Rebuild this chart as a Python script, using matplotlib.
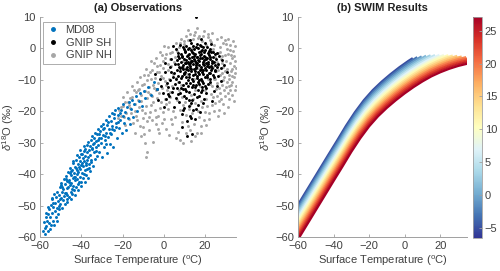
import numpy as np
import matplotlib
matplotlib.use("Agg")
import matplotlib.pyplot as plt
from matplotlib import cm, colors

plt.rcParams['font.family'] = ['Liberation Sans', 'DejaVu Sans']
plt.rcParams['mathtext.fontset'] = 'custom'
plt.rcParams['mathtext.rm'] = 'Liberation Sans'
plt.rcParams['mathtext.it'] = 'Liberation Sans:italic'
plt.rcParams['font.size'] = 8

# ---- (a) observations: points (T degC, d18O permil) ----
md08 = np.array([
    (-58.6, -58.2), (-58.1, -55.3), (-57.8, -57.0), (-57.4, -59.1),
    (-57.2, -53.8), (-56.9, -56.4), (-56.6, -54.9), (-56.3, -58.0), (-56.1, -52.6),
    (-55.8, -55.6), (-55.5, -51.2), (-55.3, -57.3), (-55.0, -53.7), (-54.8, -49.8), (-54.6, -56.1),
    (-54.3, -52.4), (-54.1, -47.9), (-53.8, -54.9), (-53.6, -50.6), (-53.3, -56.2), (-53.1, -46.4), (-52.9, -51.8),
    (-52.7, -49.1), (-52.4, -53.8), (-52.2, -47.3), (-51.9, -50.9), (-51.7, -45.6), (-51.5, -52.6), (-51.2, -48.4), (-51.0, -50.1),
    (-50.8, -46.7), (-50.6, -51.2), (-50.3, -44.2), (-50.1, -49.6), (-49.9, -47.5), (-49.6, -42.9), (-49.4, -50.8), (-49.2, -45.8), (-49.0, -48.3),
    (-48.7, -44.6), (-48.5, -41.5), (-48.3, -47.1), (-48.0, -49.5), (-47.8, -43.2), (-47.6, -45.9), (-47.3, -40.6), (-47.1, -48.0), (-46.9, -42.1), (-46.7, -46.6),
    (-46.5, -44.0), (-46.3, -39.2), (-46.1, -47.4), (-45.8, -41.8), (-45.6, -43.5), (-45.4, -37.9), (-45.2, -45.7), (-45.0, -40.3), (-44.8, -42.7), (-44.6, -46.2), (-44.4, -38.8),
    (-44.2, -41.2), (-44.0, -43.9), (-43.8, -36.4), (-43.6, -39.7), (-43.4, -45.1), (-43.2, -42.0), (-43.0, -37.8), (-42.8, -40.9), (-42.6, -44.0), (-42.4, -35.5), (-42.2, -38.6), (-42.0, -41.7),
    (-41.8, -36.9), (-41.6, -43.3), (-41.4, -39.4), (-41.2, -34.6), (-41.0, -37.7), (-40.8, -41.0), (-40.6, -35.8), (-40.4, -38.5), (-40.2, -42.4), (-40.0, -33.6), (-39.8, -36.4),
    (-39.6, -39.8), (-39.4, -34.9), (-39.2, -37.3), (-39.0, -41.1), (-38.8, -32.8), (-38.6, -35.7), (-38.4, -38.6), (-38.2, -31.9), (-38.0, -34.2), (-37.8, -40.2),
    (-37.6, -36.5), (-37.4, -33.1), (-37.2, -30.7), (-37.0, -38.3), (-36.8, -34.6), (-36.6, -29.9), (-36.4, -32.4), (-36.2, -36.9), (-36.0, -31.2), (-35.8, -39.0),
    (-35.6, -33.8), (-35.4, -29.1), (-35.2, -35.6), (-35.0, -31.8), (-34.7, -27.8), (-34.5, -37.4), (-34.3, -30.3), (-34.0, -33.0), (-33.8, -28.6), (-33.5, -35.2),
    (-33.3, -26.9), (-33.0, -31.5), (-32.8, -29.4), (-32.5, -34.1), (-32.2, -27.3), (-32.0, -30.6), (-31.7, -25.8), (-31.5, -32.9), (-31.2, -28.4),
    (-30.9, -26.2), (-30.6, -30.1), (-30.3, -24.7), (-30.0, -34.5), (-29.7, -27.6), (-29.4, -23.9), (-29.1, -31.3), (-28.8, -25.4), (-28.5, -29.0),
    (-28.2, -22.8), (-27.9, -26.9), (-27.6, -33.2), (-27.3, -24.3), (-27.0, -28.3), (-26.7, -21.6), (-26.4, -25.7), (-26.1, -30.4), (-25.8, -23.1),
    (-25.5, -27.2), (-25.2, -20.4), (-24.9, -24.6), (-24.5, -31.5), (-24.2, -22.2), (-23.9, -26.1), (-23.5, -19.7), (-23.2, -23.8),
    (-22.8, -28.4), (-22.4, -21.1), (-22.0, -18.9), (-21.6, -25.3), (-21.2, -22.7), (-20.8, -19.6), (-20.4, -26.8), (-20.0, -21.4),
    (-19.6, -17.8), (-19.2, -23.6), (-18.8, -20.3), (-18.3, -25.9), (-17.9, -18.5), (-17.4, -22.0), (-16.9, -16.9), (-16.4, -24.1),
    (-15.9, -19.4), (-15.4, -16.3), (-14.8, -21.7), (-14.2, -17.6), (-13.5, -15.2), (-12.9, -19.9), (-12.1, -16.8), (-11.4, -14.3),
    (-10.7, -18.2), (-9.8, -13.6), (-8.9, -15.9), (-7.6, -12.4), (-6.3, -14.8), (-4.8, -10.6), (-3.5, -12.9),
    (-53.9, -49.3), (-52.0, -54.9), (-50.5, -48.0), (-49.3, -44.1), (-48.1, -46.0), (-47.0, -44.5), (-46.0, -42.6), (-45.1, -39.1),
    (-44.3, -44.8), (-43.5, -41.0), (-42.7, -38.0), (-41.9, -40.0), (-41.1, -42.6), (-40.3, -37.0), (-39.5, -33.5), (-38.7, -40.0),
    (-37.9, -37.2), (-37.1, -35.4), (-36.3, -38.0), (-35.5, -36.2), (-34.6, -32.0), (-33.7, -30.0), (-32.9, -32.6), (-32.1, -29.0),
    (-31.3, -27.1), (-30.5, -28.5), (-29.6, -25.6), (-28.7, -27.8), (-27.8, -30.5), (-26.9, -23.4), (-26.0, -27.0), (-25.0, -25.8),
    (-24.0, -21.0), (-23.0, -25.0), (-22.1, -23.5), (-21.0, -20.5), (-46.8, -49.0), (-44.9, -47.8), (-43.1, -46.5), (-41.5, -45.2),
    (-39.9, -43.7), (-38.3, -42.6), (-36.7, -41.2), (-49.8, -43.5), (-47.5, -41.5), (-45.7, -39.5), (-43.9, -35.8), (-42.1, -34.0),
    (-40.7, -32.4), (-38.9, -31.0), (-55.9, -50.4), (-57.0, -52.5), (-54.4, -47.6),
])

gnip_sh = np.array([
    (9.2, 0.4), (11.8, -0.3), (14.1, 0.9), (16.5, 0.2), (18.7, -0.6), (20.9, 0.5), (13.0, 1.6), (17.4, 1.2), (22.6, -0.2), (10.4, -0.9), (19.8, 1.8),
    (6.7, -1.4), (8.3, -1.9), (10.1, -1.2), (12.4, -1.7), (13.6, -1.1), (15.2, -1.8), (16.9, -1.3), (18.1, -1.9), (19.4, -1.0), (21.3, -1.6),
    (23.1, -1.2), (24.7, -1.8), (11.2, -2.3), (14.8, -2.5), (17.6, -2.2), (20.2, -2.6), (22.0, -2.1),
    (7.4, -3.1), (9.0, -2.8), (10.6, -3.6), (12.0, -3.0), (13.3, -3.9), (14.5, -3.3), (15.9, -2.9), (16.7, -3.7), (18.4, -3.2), (19.7, -3.8),
    (21.0, -3.0), (22.4, -3.5), (23.8, -2.9), (25.3, -3.4), (8.1, -4.2), (11.5, -4.4), (13.9, -4.1), (16.2, -4.5), (18.9, -4.3), (20.6, -4.7), (24.2, -4.2),
    (5.6, -5.1), (7.0, -4.9), (9.5, -5.3), (10.9, -4.8), (12.6, -5.6), (14.0, -5.0), (15.4, -5.8), (17.1, -5.2), (17.9, -5.9), (19.3, -5.4),
    (21.6, -5.1), (22.9, -5.7), (24.8, -5.3), (26.1, -4.9), (8.6, -5.9), (12.9, -6.1), (15.7, -6.3), (20.1, -6.2), (23.5, -6.4),
    (6.2, -6.8), (7.8, -7.2), (9.3, -6.6), (10.5, -7.5), (11.9, -6.9), (13.4, -7.3), (14.6, -6.7), (16.4, -7.6), (17.5, -6.8), (18.6, -7.4),
    (20.4, -7.0), (21.8, -7.7), (22.7, -6.9), (25.0, -7.3), (5.1, -7.9), (9.9, -8.1), (12.3, -8.3), (15.1, -8.0), (19.2, -8.2), (23.9, -8.5),
    (4.3, -9.0), (6.9, -8.8), (8.4, -9.5), (10.8, -9.1), (13.7, -9.6), (16.0, -8.9), (17.8, -9.7), (20.8, -9.2), (22.3, -9.9),
    (11.6, -10.2), (14.3, -10.5), (18.3, -10.4), (7.5, -10.6), (3.2, -10.1),
    (5.4, -11.3), (9.1, -11.6), (12.7, -11.1), (15.5, -11.8), (17.2, -11.4), (19.9, -12.0), (6.6, -12.5), (10.3, -12.9), (13.9, -12.4),
    (16.8, -13.1), (1.9, -12.2), (21.4, -11.2),
    (4.0, -13.8), (8.0, -14.2), (11.0, -13.6), (14.7, -14.6), (18.0, -14.0), (2.6, -15.3), (6.1, -15.8), (9.6, -15.1), (12.2, -16.4),
    (15.9, -15.6), (19.6, -16.2), (7.3, -17.0), (13.1, -17.5), (16.6, -18.1),
    (4.9, -18.6), (10.0, -18.9), (14.4, -19.7), (8.7, -20.8), (12.5, -21.5), (17.7, -20.3), (11.3, -23.0), (15.0, -22.4),
    (11.4, -27.9), (13.8, -27.2), (9.0, -25.0),
    (-3.5, -12.8), (-1.8, -9.6), (-0.5, -14.1), (0.7, -7.4), (1.5, -10.9), (2.8, -5.9), (-2.6, -16.3), (0.2, -18.6), (3.6, -3.4), (-4.4, -8.1),
    (4.4, 0.8), (6.1, -0.2), (15.4, 9.9), (12.6, 2.7), (18.2, 3.1), (22.8, 1.4), (8.0, 1.1),
    (26.8, -2.4), (27.5, -6.1), (28.3, -3.7), (26.4, -8.7), (29.1, -5.2), (27.9, -10.3), (25.6, -11.9), (30.4, -7.6), (24.1, -13.6), (23.2, -16.8),
    (8.8, -2.4), (10.2, -4.6), (11.7, -2.0), (12.8, -4.8), (14.2, -1.5), (15.0, -3.9), (15.8, -5.4), (16.3, -2.7), (17.3, -4.1), (18.0, -0.9),
    (18.8, -5.0), (19.5, -2.4), (20.3, -3.5), (21.2, -4.3), (21.9, -6.0), (22.5, -2.7), (23.3, -4.8), (24.0, -1.0), (13.2, -6.6), (11.3, -6.0),
    (9.7, -7.8), (14.9, -7.1), (16.1, -9.5), (17.0, -8.3), (18.2, -6.5), (19.8, -9.0), (21.1, -8.4), (12.1, -9.2), (10.6, -10.9), (13.0, -0.6),
    (15.6, 0.4), (17.8, 0.9), (20.0, -0.4), (11.0, 0.7), (7.9, -6.2), (6.4, -3.6), (24.6, -6.8), (25.6, -1.5), (14.4, -11.5), (16.5, -10.7),
    (19.0, -11.1), (12.4, -13.8), (9.4, -13.0), (18.6, -13.3), (20.7, -14.1),
    (7.1, -2.3), (9.8, -3.5), (12.2, -4.9), (13.8, -2.6), (15.5, -4.6), (17.7, -3.0), (19.1, -6.8), (20.9, -5.5), (22.2, -7.9), (23.6, -3.9),
    (10.9, -6.5), (14.0, -8.6), (16.9, -10.0), (18.7, -12.4), (15.0, -12.3), (11.8, -11.9), (8.5, -12.7), (6.8, -14.6), (10.7, -15.7), (13.6, -16.3),
    (17.3, -15.3), (20.6, -12.6), (22.5, -10.6), (24.3, -9.1), (25.8, -6.0), (8.9, -8.9), (7.2, -6.0), (5.8, -9.9), (4.6, -12.6), (3.4, -7.6),
    (2.1, -14.5), (1.0, -16.0), (12.0, -18.2), (9.2, -19.6), (15.8, -19.4), (13.3, -22.2), (18.9, -17.5), (0.8, -4.5), (-1.2, -11.9), (16.0, 1.3),
    (19.0, 0.3), (21.7, -0.9), (12.3, 0.2), (9.9, -0.1), (14.7, -0.2),
])

gnip_nh = np.array([
    (22.4, 2.6), (24.1, 1.1), (25.8, 2.9), (27.3, 0.4), (28.9, 1.8), (30.5, -0.3), (32.0, 1.2), (33.6, -0.9), (34.5, 0.6), (23.0, -0.8),
    (26.2, -1.5), (29.5, -2.2), (31.3, -1.7), (33.0, -3.1), (34.2, -2.4), (24.9, -2.8), (27.7, -3.5), (30.1, -4.1), (31.9, -4.8), (33.9, -5.5),
    (26.5, -5.2), (28.6, -6.0), (30.8, -6.6), (32.7, -7.2), (34.6, -7.9), (25.3, -7.1), (27.1, -8.4), (29.2, -9.0), (31.4, -9.7), (33.3, -10.6),
    (24.4, -9.8), (26.0, -10.9), (28.1, -11.6), (30.0, -12.3), (32.1, -13.4), (25.1, -13.0), (27.4, -14.2), (29.7, -15.1), (31.6, -16.0), (26.6, -16.7),
    (28.8, -17.8), (24.0, -15.6), (33.1, -14.7), (34.8, -11.9), (34.0, -9.0), (32.5, -2.0), (29.8, 2.6), (27.9, 3.5), (31.0, 3.1), (33.4, 2.2),
    (26.8, -12.5), (30.6, -10.8), (28.3, -7.7), (25.6, -4.3), (23.7, -5.9), (22.6, -11.4), (23.3, -18.1), (27.0, -19.6), (21.9, -20.4),
    (5.9, 1.7), (8.4, 2.9), (10.7, 3.8), (12.9, 4.6), (15.1, 5.2), (17.3, 4.0), (19.6, 5.6), (21.2, 3.7), (9.6, 1.5), (14.0, 2.9),
    (18.5, 2.3), (20.7, 1.0), (11.8, 5.9), (16.2, 6.4), (7.2, 0.3), (13.5, 0.1), (23.5, 4.8),
    (6.2, -16.4), (9.3, -17.9), (12.0, -19.2), (15.3, -17.3), (18.6, -18.5), (20.5, -16.0), (7.8, -19.6), (10.6, -21.3), (13.7, -20.6), (16.9, -21.7),
    (19.4, -22.8), (5.3, -21.9), (8.9, -23.4), (11.9, -24.6), (14.6, -23.9), (17.8, -24.8), (4.1, -24.0), (9.5, -30.2), (7.0, -26.5), (12.9, -26.0), (16.0, -26.9),
    (10.0, -6.4), (14.8, -9.9), (18.9, -2.7), (12.5, -3.4), (16.7, -6.1), (21.5, -9.6), (8.2, -11.8), (20.0, -13.2), (13.0, -14.9), (6.0, -9.4),
    (11.1, -8.0), (19.1, -4.6), (22.1, -5.8), (17.6, -11.9), (9.4, -4.0), (15.2, -13.2),
    (4.2, -1.1), (2.8, -3.3), (1.1, -1.9), (-0.6, -4.0), (3.5, -5.6), (1.8, -7.0), (-0.2, -6.3), (-1.9, -5.2), (-3.1, -7.4), (4.6, -8.1),
    (2.3, -9.6), (0.4, -10.5), (-1.3, -8.9), (-2.8, -11.0), (-4.2, -9.3), (-5.5, -6.8), (3.9, -12.0), (1.5, -13.4), (-0.8, -12.7), (-2.2, -14.2),
    (-3.8, -13.1), (-5.1, -11.8), (-6.4, -9.9), (-7.3, -12.4), (2.9, -15.5), (0.6, -16.2), (-1.5, -17.0), (-3.4, -15.8), (-5.0, -16.9), (-6.6, -14.6),
    (-8.0, -15.9), (-9.2, -13.5), (-7.7, -8.6), (-9.8, -11.2), (-10.9, -14.7), (-11.8, -12.9), (-12.6, -16.4), (-13.5, -14.0), (-8.6, -18.2), (-10.4, -19.5),
    (-12.2, -18.8), (-14.1, -17.6), (-15.3, -15.4), (-16.2, -19.0), (-17.4, -17.2), (-18.3, -20.6), (-19.6, -18.4), (-20.7, -21.5), (-21.8, -19.7), (-6.9, -20.3),
    (-4.5, -19.6), (-2.6, -21.4), (-0.3, -20.1), (1.9, -19.3), (3.3, -22.5), (-1.1, -23.6), (-3.9, -24.1), (-5.8, -22.8), (-8.1, -23.2), (-9.9, -22.0),
    (-11.5, -24.7), (-13.6, -21.6), (-14.8, -23.8), (-16.9, -22.5), (-18.7, -24.5), (-7.0, -26.1), (-9.4, -27.3), (-11.0, -28.0), (-14.0, -27.0), (-5.2, -29.8),
    (-8.5, -34.5), (-8.3, -33.0), (-9.0, -30.1), (-2.4, -27.0), (0.9, -25.8), (-31.9, -3.9), (-6.1, -4.1), (-3.9, -3.0), (-1.0, -2.2), (-8.8, -6.5),
    (-11.3, -9.0), (-13.2, -10.6), (-15.5, -12.1), (-17.8, -14.0), (-19.9, -15.6), (2.0, 0.4), (0.0, 0.8),
    (0.5, -3.0), (2.1, -5.0), (3.0, -1.5), (4.8, -4.3), (5.5, -2.6), (6.8, -10.8), (7.6, -13.2), (8.9, -15.5), (10.5, -17.0), (12.8, -18.0),
    (14.2, -16.0), (16.4, -19.8), (18.1, -16.8), (19.8, -20.3), (21.0, -18.2), (22.7, -14.4), (23.6, -12.0), (24.7, -17.3), (25.9, -15.0), (27.8, -16.1),
    (29.3, -13.4), (30.9, -14.3), (32.6, -11.5), (34.3, -13.1), (33.8, -16.8), (31.2, -18.7), (29.0, -20.5), (26.1, -21.5), (24.2, -20.0), (22.0, -22.6),
    (20.3, -24.5), (18.0, -26.8), (15.0, -28.0), (13.3, -29.5), (27.2, -1.0), (28.4, -4.8), (29.9, -7.3), (31.7, -8.4), (33.2, -6.5), (34.7, -4.0),
    (32.3, -0.4), (30.3, 1.5), (28.0, -2.5), (26.4, -6.8), (25.0, -9.6), (23.9, -0.1), (22.9, 2.0), (21.6, 4.5), (19.0, 3.9), (16.7, 3.3),
    (14.6, 4.1), (11.9, 2.8), (10.0, 2.2), (7.9, 1.7), (6.5, -0.8), (-2.0, -1.0), (-3.5, -5.5), (-4.8, -4.6), (-6.9, -7.5), (-8.2, -10.2),
    (-9.5, -8.4), (-10.6, -11.5), (-12.3, -13.2), (-14.4, -13.3), (-16.5, -15.9), (-18.9, -17.1), (-20.5, -18.6), (-22.3, -22.0), (-15.7, -20.7), (-12.9, -22.9),
    (-10.1, -25.1), (-7.4, -21.7), (-4.0, -21.8), (-1.8, -19.0), (0.9, -17.6), (2.5, -17.1), (4.4, -19.8), (3.0, -14.0), (1.2, -11.8), (-0.4, -9.4),
    (-2.4, -7.6), (-4.6, -12.6), (-6.2, -17.9), (-8.9, -20.6), (-3.0, -25.5), (0.3, -22.5), (2.6, -27.6), (5.8, -28.6), (8.0, -29.0), (10.8, -27.0),
    (-13.8, -19.8), (-11.0, -16.6), (-16.8, -17.9), (-19.3, -21.9), (-7.8, -13.9), (-5.7, -15.1), (33.0, -8.8), (34.9, -6.2), (31.5, -12.0), (28.7, -10.1),
])

# ---- (b) SWIM: warmest curve, other curves are shifted copies ----
swim_t = [-62, -60, -50, -40, -35, -30, -25, -20, -15, -10, -5, 0, 5, 10, 15, 20, 25, 30, 35, 40]
swim_d = [-62.6, -60.8, -51.5, -42.2, -37.6, -32.9, -28.6, -24.8, -21.6, -18.9, -16.5,
          -14.3, -12.3, -10.5, -8.9, -7.6, -6.5, -5.6, -4.9, -4.3]
swim_param = [-5, -3, -1, 1, 3, 5, 7, 9, 11, 13, 15, 17, 19, 21, 23, 25, 27]
swim_dx = [-3.0, -2.81, -2.63, -2.44, -2.25, -2.06, -1.88, -1.69, -1.5,
           -1.31, -1.13, -0.94, -0.75, -0.56, -0.38, -0.19, 0.0]
swim_dy = [8.3, 7.78, 7.26, 6.74, 6.23, 5.71, 5.19, 4.67, 4.15,
           3.63, 3.11, 2.59, 2.08, 1.56, 1.04, 0.52, 0.0]
swim_tend = [4.5, 7, 9.5, 12, 14.5, 17, 19.5, 22, 24.5, 27, 29.5, 32, 34.5, 37, 39.5, 42, 44.5]

txt = '#404040'
spine = '#a0a0a0'
xlab = r'Surface Temperature ($^{\rm o}$C)'
ylab = r'$\delta^{18}$O (‰)'

fig = plt.figure(figsize=(5, 2.71), dpi=100)
ax1 = fig.add_axes([0.08, 0.1255, 0.392, 0.812])
ax2 = fig.add_axes([0.596, 0.1255, 0.338, 0.812])
cax = fig.add_axes([0.946, 0.123, 0.018, 0.8155])

for ax in (ax1, ax2):
    ax.set_xlim(-60, 35)
    ax.set_ylim(-60, 10)
    ax.set_xticks([-60, -40, -20, 0, 20])
    ax.set_yticks([-60, -50, -40, -30, -20, -10, 0, 10])
    for s in ('top', 'right'):
        ax.spines[s].set_visible(False)
    for s in ('left', 'bottom'):
        ax.spines[s].set_color(spine)
        ax.spines[s].set_linewidth(0.7)
    ax.tick_params(direction='in', length=2.5, width=0.6, color=spine,
                   labelcolor=txt, labelsize=8, pad=3)
    ax.set_xlabel(xlab, color=txt, fontsize=8, labelpad=2)
    ax.set_ylabel(ylab, color=txt, fontsize=8, labelpad=1)

# panel a
ms = 4.5
ax1.scatter(gnip_nh[:, 0], gnip_nh[:, 1], s=ms, c='#a6a6a6', lw=0, zorder=2)
ax1.scatter(gnip_sh[:, 0], gnip_sh[:, 1], s=ms, c='black', lw=0, zorder=3)
ax1.scatter(md08[:, 0], md08[:, 1], s=ms, c='#0072BD', lw=0, zorder=4)
h1, = ax1.plot([], [], '.', color='#0072BD', ms=5)
h2, = ax1.plot([], [], '.', color='black', ms=5)
h3, = ax1.plot([], [], '.', color='#a6a6a6', ms=5)
leg = ax1.legend([h1, h2, h3], ['MD08', 'GNIP SH', 'GNIP NH'], loc='upper left',
                 bbox_to_anchor=(0.017, 0.979), borderaxespad=0, fontsize=8,
                 fancybox=False, framealpha=1, edgecolor=spine, labelspacing=0.25,
                 borderpad=0.3, handlelength=1.2, handletextpad=0.5, labelcolor=txt)
leg.get_frame().set_linewidth(0.6)
ax1.set_title('(a) Observations', fontsize=8, fontweight='bold', color='#202020', pad=4)

# panel b
cmap = plt.get_cmap('RdYlBu_r')
norm = colors.Normalize(vmin=-6.4, vmax=27.1)
st = np.array(swim_t)
sd = np.array(swim_d)
for p, dx, dy, te in zip(swim_param, swim_dx, swim_dy, swim_tend):
    t = st + dx
    d = sd + dy
    keep = t < te
    tt = np.append(t[keep], te)
    dd = np.append(d[keep], np.interp(te, t, d))
    ax2.plot(tt, dd, color=cmap(norm(p)), lw=1.6, solid_capstyle='butt')
ax2.set_title('(b) SWIM Results', fontsize=8, fontweight='bold', color='#202020', pad=4)

cb = fig.colorbar(cm.ScalarMappable(norm=norm, cmap=cmap), cax=cax)
cb.set_ticks([-5, 0, 5, 10, 15, 20, 25])
cb.outline.set_edgecolor(spine)
cb.outline.set_linewidth(0.6)
cax.tick_params(direction='in', length=2, width=0.6, color=spine,
                labelcolor=txt, labelsize=8, pad=2)

fig.savefig('out.png', dpi=100)
